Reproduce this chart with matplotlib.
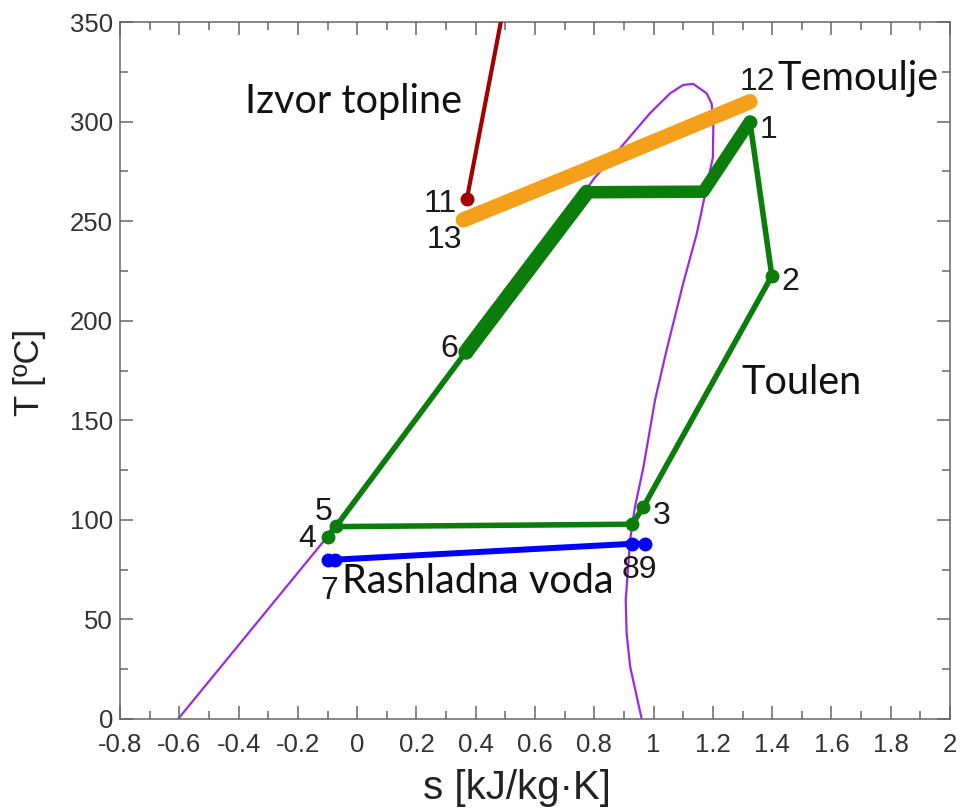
import matplotlib
matplotlib.use("Agg")
import matplotlib.pyplot as plt
from matplotlib.ticker import MultipleLocator

# ---------------- data ----------------
# saturation dome of toluene (liquid side up to critical point, then vapour side down)
dome_s = [-0.604, -0.12, -0.072, 0.367, 0.70, 0.797, 0.887, 0.988, 1.056, 1.10, 1.134,
          1.179, 1.196, 1.2016, 1.200, 1.179, 1.146, 1.10, 1.044, 1.005, 0.966, 0.9375,
          0.928, 0.921, 0.906, 0.909, 0.921, 0.96]
dome_T = [0.0, 88.0, 96.6, 184.3, 250.0, 271.0, 286.6, 304.2, 314.2, 318.4, 318.9,
          314.2, 309.0, 297.4, 282.0, 267.0, 243.9, 218.8, 185.3, 160.2, 126.7, 106.6,
          97.8, 89.9, 59.8, 43.0, 26.3, 0.0]

# ORC cycle (toluene) state points
pt_labels = ["1", "2", "3", "", "4", "5", "6"]
pt_s = [1.325, 1.399, 0.966, 0.928, -0.100, -0.072, 0.367]
pt_T = [300.0, 222.5, 106.6, 97.8, 91.5, 97.0, 184.3]

# thin part of the cycle: 1 -> 2 -> 3 -> sat. vapour -> 5 -> 6 ; plus 4 -> 5
cyc_s = [1.325, 1.399, 0.966, 0.928, -0.072, 0.367]
cyc_T = [300.0, 222.5, 106.6, 97.8, 96.6, 184.3]
pump_s = [-0.100, -0.072]
pump_T = [91.5, 97.0]

# heat addition (thick): 6 -> sat. liquid -> sat. vapour -> 1
heat_s = [0.367, 0.775, 1.168, 1.325]
heat_T = [184.3, 264.5, 264.8, 300.0]

# heat source (thermal oil) 13 -> 12 and hot gas line from 11
oil_s = [0.358, 0.786, 1.3255]
oil_T = [250.6, 276.6, 310.0]
src_s = [0.370, 0.495]
src_T = [261.0, 358.0]

# cooling water 7 -> 8 -> 9
cw_s = [-0.097, -0.075, 0.928, 0.971]
cw_T = [79.8, 80.0, 88.0, 88.0]

# ---------------- figure ----------------
W, H = 961, 810
fig = plt.figure(figsize=(W / 100, H / 100), dpi=100)
ax = fig.add_axes([120 / W, 1 - 719 / H, 830 / W, 697 / H])

GREEN = "#0a7d0a"
ax.plot(dome_s, dome_T, color="#9a2be0", lw=1.6, zorder=1, solid_joinstyle="round")
ax.plot(src_s, src_T, color="#a30000", lw=3.0, zorder=3, solid_capstyle="round")
ax.plot(src_s[:1], src_T[:1], "o", color="#a30000", ms=9, zorder=3)
ax.plot(oil_s, oil_T, color="#f5a01a", lw=11, zorder=4, solid_capstyle="round")
ax.plot(cyc_s, cyc_T, color=GREEN, lw=4.0, zorder=2, solid_joinstyle="round")
ax.plot(pump_s, pump_T, color=GREEN, lw=4.0, zorder=2)
ax.plot(heat_s[:2], heat_T[:2], color=GREEN, lw=11, zorder=2, solid_capstyle="round")
ax.plot(heat_s[1:], heat_T[1:], color=GREEN, lw=9, zorder=2, solid_capstyle="round",
        solid_joinstyle="round")
ax.plot(pt_s, pt_T, "o", color=GREEN, ms=9, zorder=5)
ax.plot(cw_s, cw_T, color="#0000ff", lw=4.3, zorder=2)
ax.plot(cw_s, cw_T, "o", color="#0000ff", ms=9, zorder=5)

ax.set_xlim(-0.8, 2.0)
ax.set_ylim(0, 350)
ax.xaxis.set_major_locator(MultipleLocator(0.2))
ax.xaxis.set_minor_locator(MultipleLocator(0.1))
ax.yaxis.set_major_locator(MultipleLocator(50))
ax.yaxis.set_minor_locator(MultipleLocator(25))
ax.xaxis.set_major_formatter(plt.FuncFormatter(lambda v, p: f"{v:g}"))

tick_col = "#666666"
ax.tick_params(which="both", direction="in", top=True, right=True, color=tick_col,
               width=1.1, labelsize=18.5, labelcolor="#333333",
               labelfontfamily="Liberation Sans")
ax.tick_params(which="major", length=9.5)
ax.tick_params(which="minor", length=5.5)
ax.tick_params(axis="x", which="major", pad=10)
ax.tick_params(axis="y", which="major", pad=5)
for sp in ax.spines.values():
    sp.set_color(tick_col)
    sp.set_linewidth(1.1)

ax.set_xlabel("s [kJ/kg·K]", fontsize=29, family="Liberation Sans", color="#222222")
ax.xaxis.set_label_coords((517 - 120) / 830, -(788 - 719) / 697)
ax.xaxis.label.set_va("center")
ax.set_ylabel("T [ºC]", fontsize=25, family="Liberation Sans", color="#222222")
ax.yaxis.set_label_coords((30 - 120) / 830, 0.5 + (719 - 372 - 348.5) / 697)
ax.yaxis.label.set_va("center")

NUM = dict(fontsize=23, family="Liberation Sans", color="#1a1a1a", va="baseline", zorder=6)
WORD = dict(fontsize=28.5, family="Lato", color="#111111", va="baseline", zorder=6)

ax.text(0.337, 254.7, "11", ha="right", **NUM)
ax.text(0.353, 236.3, "13", ha="right", **NUM)
ax.text(0.340, 181.6, "6", ha="right", **NUM)
ax.text(-0.142, 99.9, "5", ha="left", **NUM)
ax.text(-0.199, 86.2, "4", ha="left", **NUM)
ax.text(-0.125, 60.1, "7", ha="left", **NUM)
ax.text(0.893, 70.6, "89", ha="left", **NUM)
ax.text(0.998, 97.9, "3", ha="left", **NUM)
ax.text(1.432, 215.4, "2", ha="left", **NUM)
ax.text(1.359, 291.9, "1", ha="left", **NUM)
ax.text(1.290, 315.9, "12", ha="left", **NUM)

ax.text(-0.378, 304.1, "Izvor topline", ha="left", **WORD)
ax.text(1.416, 315.9, "Temoulje", ha="left", **WORD)
ax.text(1.297, 163.2, "Toulen", ha="left", **WORD)
ax.text(-0.051, 63.1, "Rashladna voda", ha="left", **WORD)

fig.savefig("out.png", dpi=100)
